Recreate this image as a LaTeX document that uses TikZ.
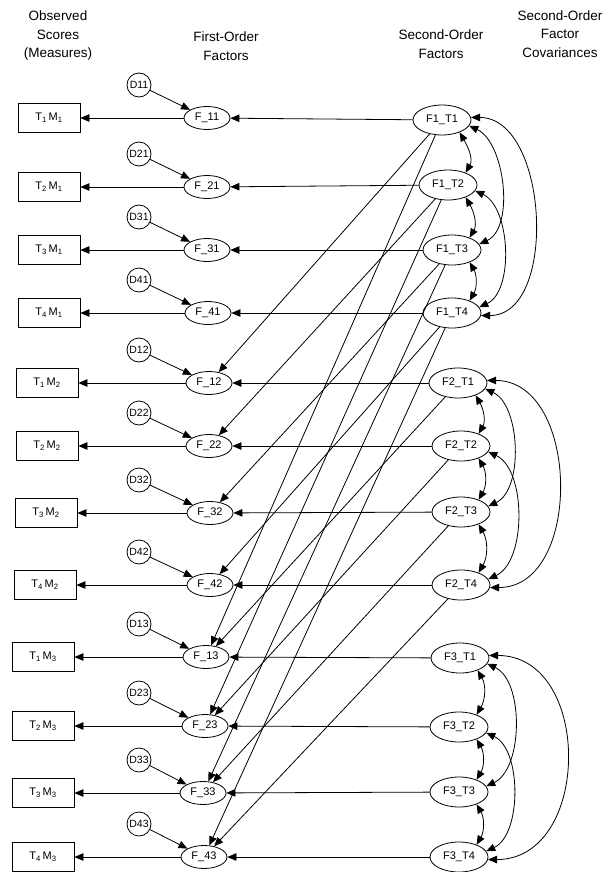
\documentclass[tikz,border=0pt]{standalone}
\usepackage{fontspec}
\setmainfont{Liberation Sans}
\usetikzlibrary{arrows.meta,shapes.geometric}

\begin{document}
\begin{tikzpicture}[x=1pt,y=-1pt,line width=0.8pt,
    >={Triangle[length=9pt,width=7.5pt]},
    head/.style={align=center,font=\fontsize{13.5}{18.5}\selectfont},
    obs/.style={draw,rectangle,minimum width=62pt,minimum height=29pt,inner sep=0pt,font=\fontsize{11}{13}\selectfont},
    fac/.style={draw,ellipse,minimum width=46pt,minimum height=23pt,inner sep=0pt,font=\fontsize{11}{13}\selectfont},
    sec/.style={draw,ellipse,minimum width=58pt,minimum height=30pt,inner sep=0pt,font=\fontsize{11}{13}\selectfont},
    dist/.style={draw,circle,minimum size=24pt,inner sep=0pt,font=\fontsize{10.5}{12}\selectfont},
    cov/.style={<->}]
    \useasboundingbox (0,0) rectangle (608,872);

    \node[head] (hobs) at (58,36) {Observed\\Scores\\(Measures)};
    \node[head] (hfirst) at (226,46) {First-Order\\Factors};
    \node[head] (hsecond) at (441,44) {Second-Order\\Factors};
    \node[head] (hcov) at (560,34) {Second-Order\\Factor\\Covariances};

    \foreach \t/\m/\y/\bx/\fx in {1/1/118/49/207, 2/1/187/49/207, 3/1/250/49/207, 4/1/313/49/208,
                                  1/2/383/47/209, 2/2/446/47/209, 3/2/513/46/210, 4/2/585/45/210,
                                  1/3/657/43/206, 2/3/726/43/205, 3/3/793/43/203, 4/3/857/43/204} {
        \node[obs] (obs\t\m) at (\bx,\y) {T\textsubscript{\t}\,M\textsubscript{\m}};
        \node[fac] (F\t\m) at (\fx,\y) {F\_\t\m};
        \node[dist] (D\t\m) at (139,{\y-33}) {D\t\m};
        \draw[->] (F\t\m) -- (obs\t\m);
        \draw[->] (D\t\m) -- (F\t\m);
    }

    \foreach \g/\k/\x/\y in {1/1/442/120, 1/2/448/185, 1/3/452/250, 1/4/452/313,
                             2/1/458/383, 2/2/461/446, 2/3/461/512, 2/4/461/585,
                             3/1/460/658, 3/2/459/727, 3/3/459/792, 3/4/459/857} {
        \node[sec] (S\g\k) at (\x,\y) {F\g\_T\k};
        \draw[->] (S\g\k) -- (F\k\g);
    }

    \foreach \k in {1,...,4} {
        \draw[->] (S1\k) -- (F\k2);
        \draw[->] (S1\k) -- (F\k3);
        \draw[->] (S2\k) -- (F\k3);
    }

    \foreach \g/\far in {1/1, 2/1.15, 3/1.3} {
        \draw[cov] (S\g1.-35) to[out=-60,in=60] (S\g2.35);
        \draw[cov] (S\g2.-35) to[out=-60,in=60] (S\g3.35);
        \draw[cov] (S\g3.-35) to[out=-60,in=60] (S\g4.35);
        \draw[cov] (S\g1.-12) to[out=-25,in=25,looseness=0.85] (S\g3.12);
        \draw[cov] (S\g2.-12) to[out=-25,in=25,looseness=0.85] (S\g4.12);
        \draw[cov] (S\g1.5) to[out=0,in=0,looseness=\far] (S\g4.-5);
    }
\end{tikzpicture}
\end{document}
